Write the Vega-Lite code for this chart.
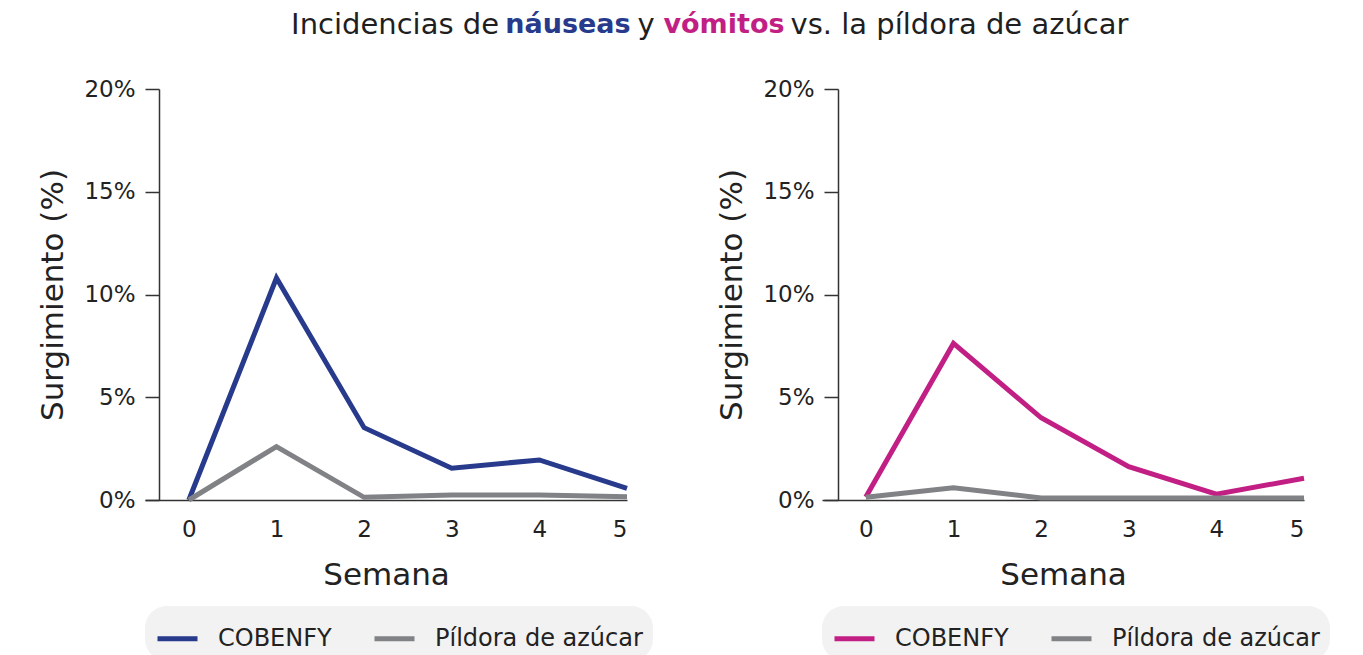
{
  "$schema": "https://vega.github.io/schema/vega-lite/v6.json",
  "padding": {"left": 37, "top": 10, "right": 10, "bottom": 0},
  "background": "white",
  "bounds": "flush",
  "spacing": 79,
  "config": {
    "view": {"stroke": null},
    "font": "DejaVu Sans",
    "axis": {
      "grid": false,
      "domainColor": "#333333",
      "domainWidth": 1.5,
      "tickColor": "#333333",
      "tickWidth": 1.5,
      "labelColor": "#222222",
      "labelFontSize": 23,
      "titleColor": "#222222",
      "titleFontSize": 31,
      "titleFontWeight": "normal"
    },
    "legend": {
      "orient": "bottom",
      "direction": "horizontal",
      "fillColor": "#f2f2f2",
      "cornerRadius": 22,
      "padding": 10,
      "labelFontSize": 24,
      "labelColor": "#222222",
      "labelLimit": 400,
      "symbolType": "stroke",
      "symbolStrokeWidth": 5,
      "symbolSize": 1600,
      "labelOffset": 18,
      "columnPadding": 32,
      "offset": 16
    }
  },
  "datasets": {
    "nauseas": [
      {"semana": 0, "serie": "COBENFY", "valor": 0},
      {"semana": 1, "serie": "COBENFY", "valor": 10.8},
      {"semana": 2, "serie": "COBENFY", "valor": 3.52},
      {"semana": 3, "serie": "COBENFY", "valor": 1.55},
      {"semana": 4, "serie": "COBENFY", "valor": 1.95},
      {"semana": 5, "serie": "COBENFY", "valor": 0.57},
      {"semana": 0, "serie": "Píldora de azúcar", "valor": 0},
      {"semana": 1, "serie": "Píldora de azúcar", "valor": 2.6},
      {"semana": 2, "serie": "Píldora de azúcar", "valor": 0.13},
      {"semana": 3, "serie": "Píldora de azúcar", "valor": 0.24},
      {"semana": 4, "serie": "Píldora de azúcar", "valor": 0.24},
      {"semana": 5, "serie": "Píldora de azúcar", "valor": 0.16}
    ],
    "vomitos": [
      {"semana": 0, "serie": "COBENFY", "valor": 0.15},
      {"semana": 1, "serie": "COBENFY", "valor": 7.62},
      {"semana": 2, "serie": "COBENFY", "valor": 4.0},
      {"semana": 3, "serie": "COBENFY", "valor": 1.62},
      {"semana": 4, "serie": "COBENFY", "valor": 0.28},
      {"semana": 5, "serie": "COBENFY", "valor": 1.06},
      {"semana": 0, "serie": "Píldora de azúcar", "valor": 0.13},
      {"semana": 1, "serie": "Píldora de azúcar", "valor": 0.6},
      {"semana": 2, "serie": "Píldora de azúcar", "valor": 0.1},
      {"semana": 3, "serie": "Píldora de azúcar", "valor": 0.1},
      {"semana": 4, "serie": "Píldora de azúcar", "valor": 0.1},
      {"semana": 5, "serie": "Píldora de azúcar", "valor": 0.1}
    ]
  },
  "vconcat": [
    {
      "bounds": "flush",
      "spacing": 0,
      "hconcat": [
        {
          "width": 354, "height": 30,
          "data": {"values": [{"t": "Incidencias de"}]},
          "mark": {"type": "text", "align": "right", "fontSize": 29, "color": "#1f1f1f"},
          "encoding": {"text": {"field": "t"}, "x": {"value": "width"}}
        },
        {
          "width": 138, "height": 30,
          "data": {"values": [{"t": "náuseas"}]},
          "mark": {"type": "text", "align": "center", "fontSize": 27, "fontWeight": "bold", "color": "#273A8C"},
          "encoding": {"text": {"field": "t"}}
        },
        {
          "width": 18, "height": 30,
          "data": {"values": [{"t": "y"}]},
          "mark": {"type": "text", "align": "center", "fontSize": 29, "color": "#1f1f1f"},
          "encoding": {"text": {"field": "t"}}
        },
        {
          "width": 138, "height": 30,
          "data": {"values": [{"t": "vómitos"}]},
          "mark": {"type": "text", "align": "center", "fontSize": 27, "fontWeight": "bold", "color": "#C21F85"},
          "encoding": {"text": {"field": "t"}}
        },
        {
          "width": 333, "height": 30,
          "data": {"values": [{"t": "vs. la píldora de azúcar"}]},
          "mark": {"type": "text", "align": "center", "fontSize": 29, "color": "#1f1f1f"},
          "encoding": {"text": {"field": "t"}}
        }
      ]
    },
    {
      "bounds": "flush",
      "spacing": 195,
      "resolve": {"scale": {"color": "independent"}, "legend": {"color": "independent"}},
      "hconcat": [
        {
          "width": 482, "height": 411,
          "data": {"name": "nauseas"},
          "mark": {"type": "line", "strokeWidth": 5},
          "encoding": {
            "x": {"field": "semana", "type": "quantitative",
              "scale": {"domain": [-0.5, 5], "nice": false, "zero": false},
              "axis": {"values": [0, 1, 2, 3, 4, 5], "ticks": false, "tickSize": 0, "labelPadding": 18, "title": "Semana", "titlePadding": 19}},
            "y": {"field": "valor", "type": "quantitative",
              "scale": {"domain": [0, 20], "nice": false},
              "axis": {"values": [0, 5, 10, 15, 20], "labelExpr": "datum.value + '%'", "offset": -14, "tickSize": 14, "labelPadding": 10, "title": "Surgimiento (%)", "titlePadding": 14}},
            "color": {"field": "serie", "type": "nominal",
              "scale": {"domain": ["COBENFY", "Píldora de azúcar"], "range": ["#273A8C", "#808285"]},
              "legend": {"title": null}}
          }
        },
        {
          "width": 482, "height": 411,
          "data": {"name": "vomitos"},
          "mark": {"type": "line", "strokeWidth": 5},
          "encoding": {
            "x": {"field": "semana", "type": "quantitative",
              "scale": {"domain": [-0.5, 5], "nice": false, "zero": false},
              "axis": {"values": [0, 1, 2, 3, 4, 5], "ticks": false, "tickSize": 0, "labelPadding": 18, "title": "Semana", "titlePadding": 19}},
            "y": {"field": "valor", "type": "quantitative",
              "scale": {"domain": [0, 20], "nice": false},
              "axis": {"values": [0, 5, 10, 15, 20], "labelExpr": "datum.value + '%'", "offset": -16, "tickSize": 14, "labelPadding": 10, "title": "Surgimiento (%)", "titlePadding": 14}},
            "color": {"field": "serie", "type": "nominal",
              "scale": {"domain": ["COBENFY", "Píldora de azúcar"], "range": ["#C21F85", "#808285"]},
              "legend": {"title": null}}
          }
        }
      ]
    }
  ]
}
